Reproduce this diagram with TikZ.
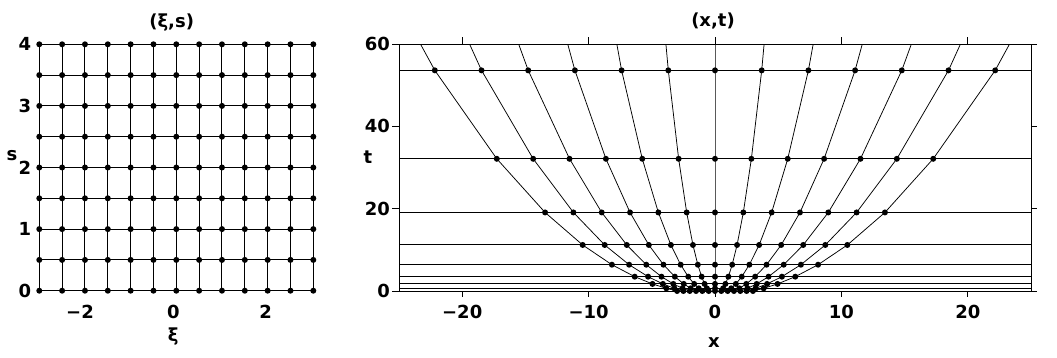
\documentclass[tikz,border=0pt]{standalone}
\usepackage{fontspec}
\setmainfont{DejaVu Sans}
\begin{document}
\begin{tikzpicture}[x=1pt,y=-1pt,
  declare function={LX(\a)=176.3+45.67*\a; LY(\b)=290.7-61.6*\b; RX(\a)=715+12.64*\a; RY(\b)=291-4.1167*\b;},
  gridline/.style={line width=1pt},
  curve/.style={line width=0.75pt},
  frameline/.style={line width=1pt},
  lab/.style={font=\bfseries\fontsize{18}{18}\selectfont, inner sep=0pt},
  dotfill/.style={fill=black}]
\useasboundingbox (0,0) rectangle (1057,357);
% ---------------- left panel (xi,s) ----------------
\foreach \i in {-6,...,6}{
  \draw[gridline] ({LX(\i/2)},{LY(0)}) -- ({LX(\i/2)},{LY(4)});
}
\foreach \j in {0,...,8}{
  \draw[gridline] ({LX(-3)},{LY(\j/2)}) -- ({LX(3)},{LY(\j/2)});
}
\foreach \i in {-6,...,6}{
  \foreach \j in {0,...,8}{
    \fill[dotfill] ({LX(\i/2)},{LY(\j/2)}) circle (3pt);
  }
}
\node[lab] (ltitle) at (171.7,23) {(ξ,s)};
\node[lab] (ly4) at (25,{LY(4)}) {4};
\node[lab] (ly3) at (25,{LY(3)}) {3};
\node[lab] (ly2) at (25,{LY(2)}) {2};
\node[lab] (ly1) at (25,{LY(1)}) {1};
\node[lab] (ly0) at (25,{LY(0)}) {0};
\node[lab] (lsl) at (12,156) {s};
\node[lab] (lxm2) at (80,311.7) {−2};
\node[lab] (lx0) at (173.3,311.7) {0};
\node[lab] (lx2) at (265.7,311.7) {2};
\node[lab] (lxil) at (173.3,337) {ξ};
% ---------------- right panel (x,t) ----------------
\begin{scope}
  \clip ({RX(-25)},{RY(0)}) rectangle ({RX(25)},{RY(60)});
  \foreach \i in {-6,...,6}{
    \draw[curve] plot[samples at={0,0.5,...,4.5}] ({RX(\i/2*exp(\x/2))},{RY(exp(\x)-1)});
  }
\end{scope}
\foreach \j in {0,...,8}{
  \draw[gridline] ({RX(-25)},{RY(exp(\j/2)-1)}) -- ({RX(25)},{RY(exp(\j/2)-1)});
}
\foreach \i in {-6,...,6}{
  \foreach \j in {0,...,8}{
    \fill[dotfill] ({RX(\i/2*exp(\j/4))},{RY(exp(\j/2)-1)}) circle (3pt);
  }
}
\draw[frameline] ({RX(-25)},{RY(0)}) rectangle ({RX(25)},{RY(60)});
% ticks
\foreach \v in {-20,-10,0,10,20}{
  \draw[frameline] ({RX(\v)},{RY(0)}) -- ++(0,6);
  \draw[frameline] ({RX(\v)},{RY(60)}) -- ++(0,-7);
}
\foreach \v in {0,20,40,60}{
  \draw[frameline] ({RX(-25)},{RY(\v)}) -- ++(-7,0);
  \draw[frameline] ({RX(25)},{RY(\v)}) -- ++(6,0);
}
\node[lab] (rtitle) at (713,21) {(x,t)};
\node[lab, anchor=east] (ry0) at (390,{RY(0)}) {0};
\node[lab, anchor=east] (ry20) at (390,{RY(20)}) {20};
\node[lab, anchor=east] (ry40) at (390,{RY(40)}) {40};
\node[lab, anchor=east] (ry60) at (390,{RY(60)}) {60};
\node[lab] (rtl) at (368,157) {t};
\node[lab] (rxm20) at ({RX(-20)},312) {−20};
\node[lab] (rxm10) at ({RX(-10)},312) {−10};
\node[lab] (rx0) at ({RX(0)},312) {0};
\node[lab] (rx10) at ({RX(10)},312) {10};
\node[lab] (rx20) at ({RX(20)},312) {20};
\node[lab] (rxl) at (714,343) {x};
\end{tikzpicture}
\end{document}
